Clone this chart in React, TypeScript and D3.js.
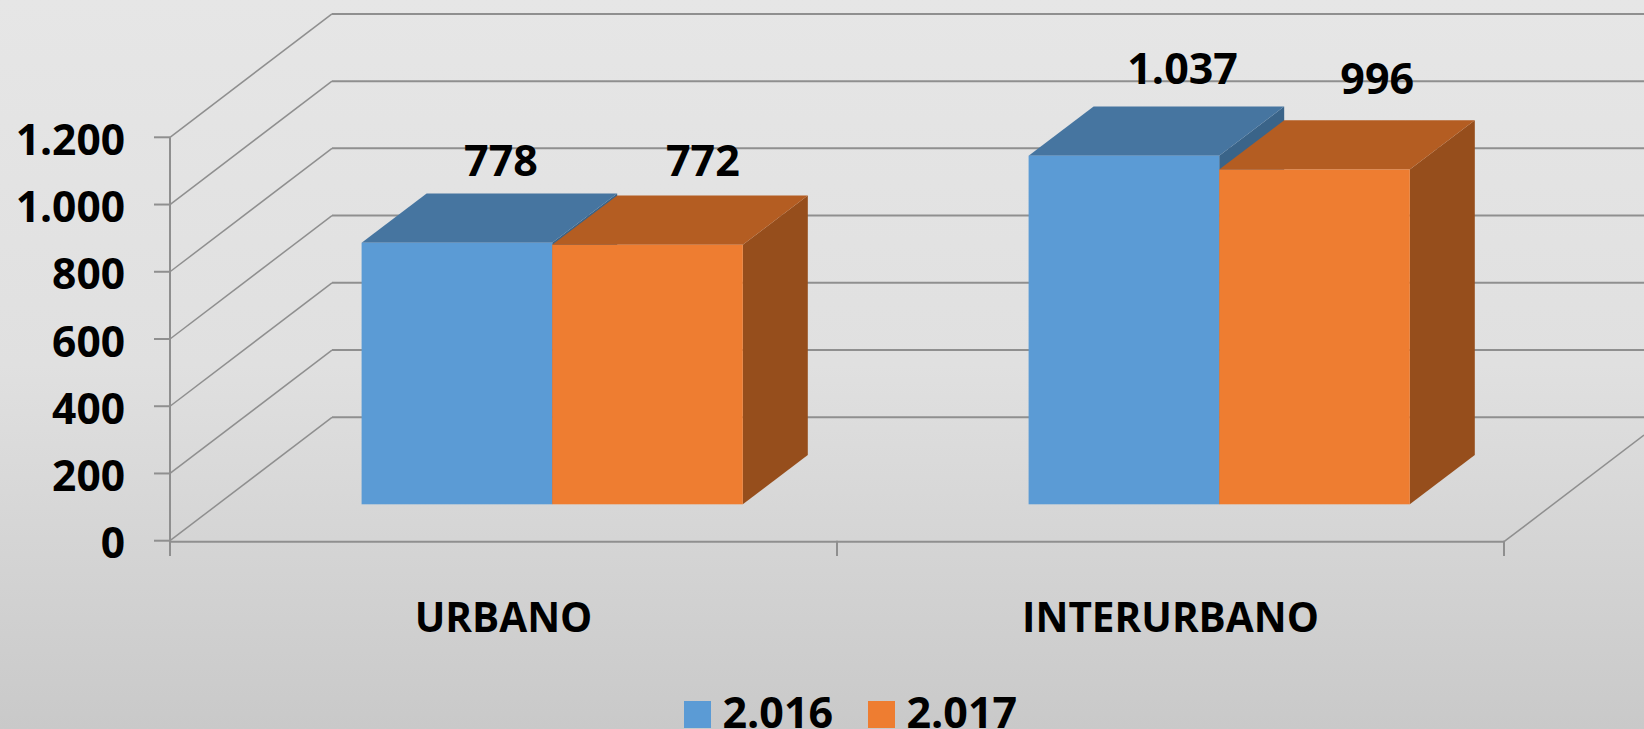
import React from "react";
import * as d3 from "d3";

const categories = ["URBANO", "INTERURBANO"];
const seriesNames = ["2.016", "2.017"];
const values2016 = [778, 1037];
const values2017 = [772, 996];
const valueLabels2016 = ["778", "1.037"];
const valueLabels2017 = ["772", "996"];
const yTicks = [0, 200, 400, 600, 800, 1000, 1200];
const yTickLabels = ["0", "200", "400", "600", "800", "1.000", "1.200"];

const W = 1644, H = 729;
const FONT = "'Open Sans', sans-serif";
const GRID = "#8f8f8f";

const y = d3.scaleLinear().domain([0, 1200]).range([540.7, 137.3]);
const x = d3.scaleBand().domain(categories).range([170, 1504]);
const BACK = { dx: 162, dy: -123.4 };
const FRONT = { dx: 48.7, dy: -36.4 };
const BAR = { dx: 65, dy: -49.3 };
const BAR_W = 190.6;

// hand placement of the value labels relative to each bar [series][category]
const labelDx = [[139.4, 154], [150.7, 158]];
const labelDy = [[-67, -72], [-69, -75]];

const fills = [
  { face: "#5b9bd5", top: "#4675a0", side: "#3a6489" },
  { face: "#ee7d31", top: "#b45d22", side: "#964e1c" },
];
const line = d3.line();
const barBase = y(0) + FRONT.dy;
const barTop = (v: number) => barBase - (y(0) - y(v));
const groupLeft = (cat: string) => (x(cat) as number) + x.bandwidth() / 2 + FRONT.dx - BAR_W;

function Bar({ x0, value, c }: { x0: number; value: number; c: typeof fills[0] }) {
  const x1 = x0 + BAR_W;
  const t = barTop(value);
  const p = (pts: [number, number][]) => line(pts) + "Z";
  return (
    <g>
      <path fill={c.side} d={p([[x1, t], [x1 + BAR.dx, t + BAR.dy], [x1 + BAR.dx, barBase + BAR.dy], [x1, barBase]])} />
      <path fill={c.top} d={p([[x0, t], [x0 + BAR.dx, t + BAR.dy], [x1 + BAR.dx, t + BAR.dy], [x1, t]])} />
      <rect x={x0} y={t} width={BAR_W} height={barBase - t} fill={c.face} />
    </g>
  );
}

export default function App() {
  const series = [values2016, values2017];
  const labels = [valueLabels2016, valueLabels2017];
  const x0 = x.range()[0], xN = x.range()[1];
  return (
    <svg width={W} height={H} viewBox={`0 0 ${W} ${H}`}
      style={{ position: "fixed", left: 0, top: 0, display: "block" }}>
      <defs>
        <linearGradient id="bg" x1="0" y1="0" x2="0" y2="1">
          <stop offset="0" stopColor="#e6e6e6" />
          <stop offset="0.5" stopColor="#e0e0e0" />
          <stop offset="1" stopColor="#c9c9c9" />
        </linearGradient>
      </defs>
      <rect width={W} height={H} fill="url(#bg)" />

      {yTicks.map((t) => (
        <g key={t} fill="none" stroke={GRID}>
          <path strokeWidth={1.5} d={line([[x0, y(t)], [x0 + BACK.dx, y(t) + BACK.dy]]) as string} />
          <path strokeWidth={2} d={line([[x0 + BACK.dx, y(t) + BACK.dy], [W, y(t) + BACK.dy]]) as string} />
        </g>
      ))}
      <path fill="none" stroke={GRID} strokeWidth={1.5}
        d={line([[xN, y(0) + 1], [W, y(0) + 1 + (W - xN) * (BACK.dy / BACK.dx)]]) as string} />
      <line x1={x0} x2={x0} y1={y(1200)} y2={556} stroke={GRID} strokeWidth={2} />
      <line x1={x0} x2={xN} y1={y(0) + 1} y2={y(0) + 1} stroke={GRID} strokeWidth={2} />
      {yTicks.map((t) => (
        <line key={t} x1={154} x2={x0} y1={y(t)} y2={y(t)} stroke={GRID} strokeWidth={2} />
      ))}
      {[x0 + x.bandwidth(), xN].map((v) => (
        <line key={v} x1={v} x2={v} y1={y(0)} y2={556} stroke={GRID} strokeWidth={2} />
      ))}

      {categories.map((cat, i) => (
        <g key={cat}>
          {[0, 1].map((s) => (
            <Bar key={s} x0={groupLeft(cat) + s * BAR_W} value={series[s][i]} c={fills[s]} />
          ))}
        </g>
      ))}

      <g fontFamily={FONT} fontWeight={700} fill="#000">
        {categories.map((cat, i) =>
          [0, 1].map((s) => (
            <text key={cat + s} x={groupLeft(cat) + s * BAR_W + labelDx[s][i]}
              y={barTop(series[s][i]) + labelDy[s][i]}
              textAnchor="middle" fontSize={43}>{labels[s][i]}</text>
          ))
        )}
        {yTicks.map((t, i) => (
          <text key={t} x={125} y={y(t) + 17.5} textAnchor="end" fontSize={42.5}>{yTickLabels[i]}</text>
        ))}
        {categories.map((cat) => (
          <text key={cat} x={(x(cat) as number) + x.bandwidth() / 2} y={632}
            textAnchor="middle" fontSize={40.5}>{cat}</text>
        ))}
        {seriesNames.map((n, i) => {
          const lx = [684, 868][i];
          return (
            <g key={n}>
              <rect x={lx} y={701} width={27} height={27} fill={fills[i].face} />
              <text x={lx + 38.5} y={728} fontSize={43}>{n}</text>
            </g>
          );
        })}
      </g>
    </svg>
  );
}
